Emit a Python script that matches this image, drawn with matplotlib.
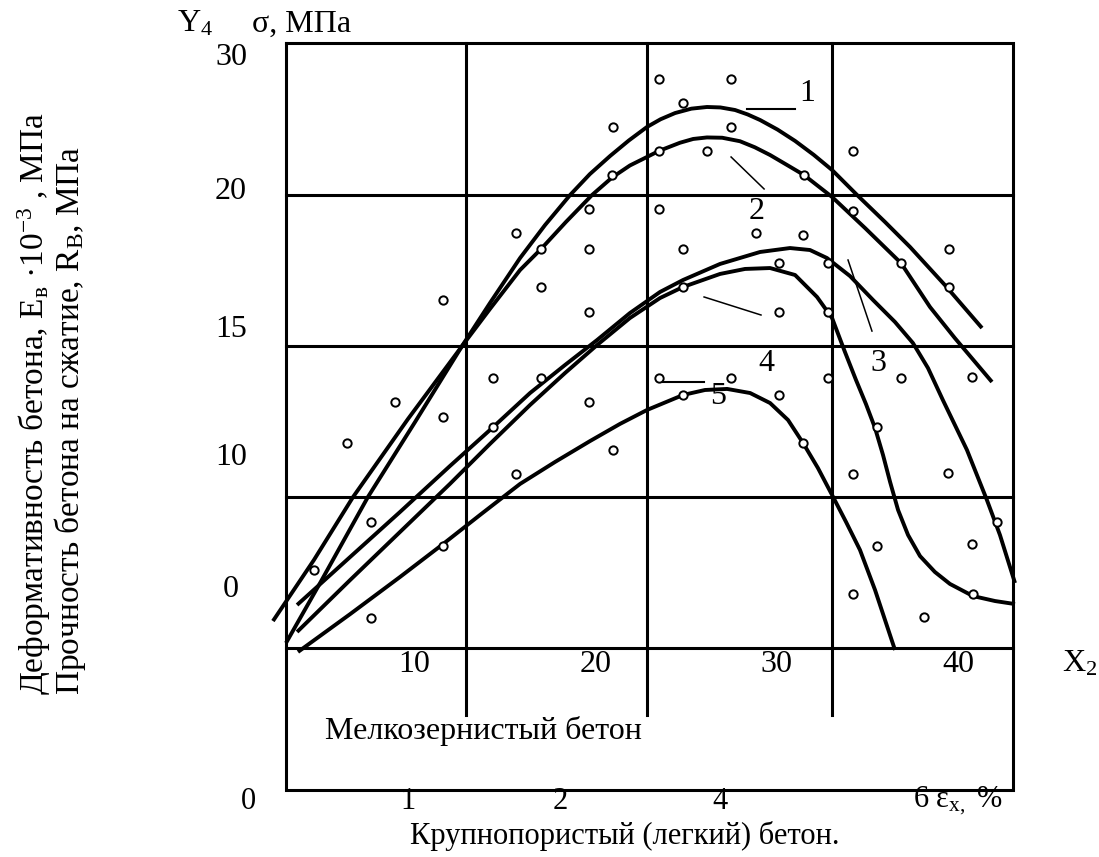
import matplotlib
matplotlib.use("Agg")
import matplotlib.pyplot as plt

plt.rcParams['font.family'] = ['Liberation Serif', 'DejaVu Serif']
plt.rcParams['mathtext.fontset'] = 'custom'
plt.rcParams['mathtext.rm'] = 'Liberation Serif'
plt.rcParams['mathtext.it'] = 'Liberation Serif:italic'
plt.rcParams['mathtext.bf'] = 'Liberation Serif:bold'

# ---------------- data ----------------
# scattered experimental points (x in X2 units, y in plot units)
points_x = [6.30, 8.95, 11.60, 11.60, 11.60, 7.63, 4.48, 7.63, 15.63, 14.36,
            14.36, 15.63, 17.01, 17.01, 17.01, 19.65, 19.65, 19.65, 19.65, 20.98,
            20.92, 20.98, 23.51, 23.51, 23.51, 23.51, 24.84, 24.84, 24.84, 24.84,
            26.16, 27.49, 27.49, 27.49, 28.87, 30.14, 30.14, 30.14, 31.51, 31.46,
            31.46, 32.84, 32.84, 32.84, 34.21, 34.21, 34.21, 34.21, 35.54, 35.54,
            36.86, 36.86, 38.13, 39.50, 39.50, 39.45, 40.77, 40.77, 40.83, 42.16]
points_y = [13.53, 16.24, 22.97, 15.25, 6.73, 8.32, 5.15, 1.98, 27.39, 17.82,
            14.59, 11.49, 26.34, 23.83, 17.82, 28.98, 26.34, 22.18, 16.24, 34.39,
            31.22, 13.07, 37.56, 32.81, 28.98, 17.82, 35.97, 26.34, 23.83, 16.70,
            32.81, 37.56, 34.39, 17.82, 27.39, 25.41, 22.18, 16.70, 31.22, 27.26,
            13.53, 25.41, 22.18, 17.82, 32.81, 28.84, 11.49, 3.56, 14.59, 6.73,
            25.41, 17.82, 2.05, 26.34, 23.83, 11.55, 17.89, 6.86, 3.56, 8.32]

curve1_x = [2.94, 4.82, 7.46, 10.06, 12.65, 14.19, 15.85, 17.23, 18.61, 19.70,
            20.82, 21.85, 22.85, 23.60, 24.40, 25.30, 26.16, 26.90, 27.71, 28.40,
            29.09, 30.05, 31.02, 32.05, 33.06, 34.44, 35.98, 37.36, 39.28, 41.33]
curve1_y = [0.33, 4.29, 9.97, 14.92, 19.93, 22.77, 25.74, 27.92, 29.90, 31.28,
            32.48, 33.50, 34.39, 34.90, 35.31, 35.60, 35.71, 35.68, 35.51, 35.22,
            34.85, 34.22, 33.47, 32.55, 31.55, 29.90, 28.12, 26.47, 23.96, 21.12]

curve2_x = [2.22, 4.48, 6.64, 9.67, 12.65, 14.19, 15.85, 17.01, 18.38, 19.82,
            20.92, 21.91, 22.85, 23.51, 24.67, 25.40, 26.16, 27.00, 27.98, 28.80,
            29.64, 30.55, 31.51, 33.06, 34.88, 36.86, 38.46, 39.83, 41.88]
curve2_y = [1.78, 5.81, 9.97, 15.12, 19.93, 22.38, 24.95, 26.34, 28.12, 29.90,
            31.05, 31.85, 32.41, 32.81, 33.35, 33.60, 33.70, 33.68, 33.45, 33.05,
            32.54, 31.90, 31.22, 29.77, 27.72, 25.41, 22.51, 20.46, 17.56]

curve3_x = [3.55, 6.48, 9.23, 11.98, 14.19, 16.40, 18.33, 20.10, 21.91, 23.57,
            24.84, 26.88, 29.09, 30.74, 31.84, 32.78, 34.05, 35.32, 36.53, 37.52,
            38.35, 39.17, 40.50, 41.60, 42.32, 43.15]
curve3_y = [2.84, 6.01, 8.98, 12.01, 14.39, 16.83, 18.68, 20.33, 22.11, 23.50,
            24.29, 25.35, 26.14, 26.40, 26.27, 25.74, 24.55, 22.97, 21.52, 20.13,
            18.48, 16.37, 13.07, 9.77, 7.46, 4.29]

curve4_x = [3.55, 6.48, 9.23, 11.98, 14.19, 16.40, 18.33, 20.10, 21.91, 23.57,
            24.84, 26.88, 28.26, 29.64, 31.02, 32.23, 33.06, 33.77, 34.38, 34.93,
            35.43, 35.87, 36.26, 36.70, 37.25, 37.91, 38.73, 39.56, 40.83, 42.05,
            43.15]
curve4_y = [1.06, 4.49, 7.66, 10.83, 13.47, 16.04, 18.15, 20.00, 21.78, 23.10,
            23.83, 24.69, 25.02, 25.08, 24.62, 23.17, 21.78, 19.54, 17.69, 16.10,
            14.52, 12.74, 10.96, 9.11, 7.46, 6.07, 5.02, 4.23, 3.43, 3.10,
            2.90]

curve5_x = [3.60, 6.48, 9.23, 11.60, 13.64, 15.85, 17.78, 19.71, 21.36, 22.85,
            24.84, 26.05, 27.27, 28.54, 29.64, 30.63, 31.46, 32.28, 33.06, 33.83,
            34.60, 35.43, 36.53]
curve5_y = [-0.26, 2.24, 4.69, 6.86, 8.78, 10.83, 12.28, 13.66, 14.79, 15.71,
            16.70, 17.03, 17.10, 16.83, 16.17, 15.05, 13.53, 11.88, 10.10, 8.32,
            6.47, 3.83, -0.13]

curve_labels = ['1', '2', '3', '4', '5']

x2_tick_values = [10, 20, 30, 40]
y_tick_labels = ['30', '20', '15', '10', '0']
strain_tick_labels = ['0', '1', '2', '4']

# ---------------- layout ----------------
FS = 23
fig = plt.figure(figsize=(10.99, 8.57), dpi=100)
ax = fig.add_axes([0, 0, 1, 1])
ax.set_xlim(-12.835, 47.783)
ax.set_ylim(-13.795, 42.772)
ax.axis('off')

LW_GRID = 2.2
x_left, x_right = 2.95, 43.04
y_top, y_bot = 39.93, -9.4
# frame
ax.plot([x_left, x_right, x_right, x_left, x_left],
        [y_top, y_top, y_bot, y_bot, y_top], color='black', lw=LW_GRID,
        solid_joinstyle='miter', clip_on=False)
for gy in [0, 9.97, 19.93, 29.9]:
    ax.plot([x_left, x_right], [gy, gy], color='black', lw=LW_GRID, clip_on=False)
for gx in [12.87, 22.85, 33.06]:
    ax.plot([gx, gx], [-4.42, y_top], color='black', lw=LW_GRID, clip_on=False)

# curves
for cx, cy in [(curve1_x, curve1_y), (curve2_x, curve2_y), (curve3_x, curve3_y),
               (curve4_x, curve4_y), (curve5_x, curve5_y)]:
    ax.plot(cx, cy, color='black', lw=2.8, solid_capstyle='butt',
            solid_joinstyle='round', clip_on=False, zorder=3)

# points
ax.plot(points_x, points_y, 'o', mfc='white', mec='black', ms=6, mew=1.4,
        zorder=4, clip_on=False)

# leaders and curve labels
leaders = [([28.37, 31.02], [35.58, 35.58], 1.5),
           ([27.49, 29.31], [32.41, 30.30], 1.1),
           ([33.94, 35.26], [25.61, 20.92], 1.1),
           ([26.00, 29.14], [23.17, 21.98], 1.1),
           ([23.73, 25.99], [17.56, 17.56], 1.5)]
for lx, ly, lw in leaders:
    ax.plot(lx, ly, color='black', lw=lw, zorder=3)
label_pos = [(31.68, 36.63), (28.92, 28.84), (35.64, 18.81), (29.42, 18.81), (26.77, 16.63)]
for lab, (tx, ty) in zip(curve_labels, label_pos):
    ax.text(tx, ty, lab, fontsize=FS, ha='center', va='center', zorder=5)

# X2 ticks
for v in x2_tick_values:
    ax.text(v, -1.06, str(v), fontsize=FS, ha='center', va='center')
ax.text(46.74, -1.06, 'X$_2$', fontsize=FS, ha='center', va='center')

# Y ticks
for lab, yy in zip(y_tick_labels, [39.0, 30.1, 21.0, 12.6, 3.83]):
    ax.text(-0.09, yy, lab, fontsize=FS, ha='center', va='center')

# top label
ax.text(-2.07, 41.19, 'Y$_4$', fontsize=FS, ha='center', va='center')
ax.text(1.06, 41.19, 'σ, МПа', fontsize=FS, ha='left', va='center')

# lower strip
FS_B = 22
ax.text(5.09, -5.48, 'Мелкозернистый бетон', fontsize=FS, ha='left', va='center')
for lab, xx in zip(strain_tick_labels, [0.86, 9.67, 18.05, 26.88]):
    ax.text(xx, -10.10, lab, fontsize=FS_B, ha='center', va='center')
ax.text(37.52, -10.10, '6 ε$_{\\mathrm{x,}}$ %', fontsize=FS_B, ha='left', va='center')
ax.text(9.78, -12.40, 'Крупнопористый (легкий) бетон.', fontsize=FS_B,
        ha='left', va='center')

# rotated y-axis titles (two lines)
ax.text(-10.0, -3.10,
        'Деформативность бетона, E$_{\\mathrm{в}}$ ·10$^{-3}$ , МПа\n'
        'Прочность бетона на сжатие, R$_{\\mathrm{В}}$, МПа',
        fontsize=24, rotation=90, ha='center', va='bottom',
        multialignment='left', linespacing=0.95)

fig.savefig('out.png', dpi=100)
